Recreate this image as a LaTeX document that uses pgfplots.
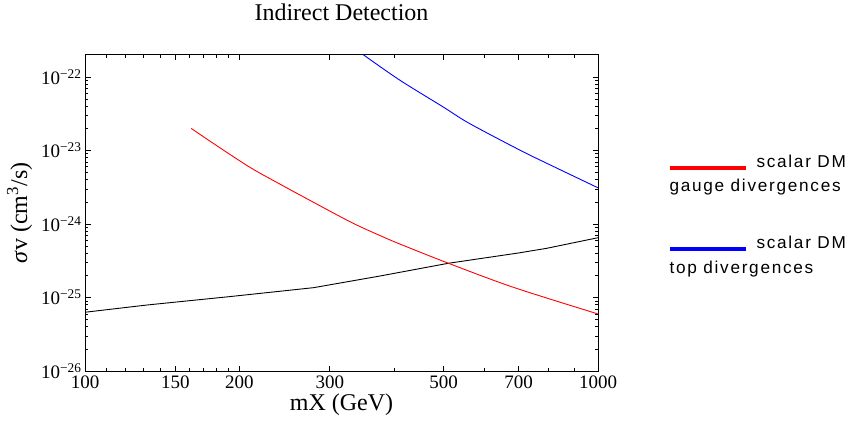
\documentclass[border=0pt]{standalone}
\usepackage{pgfplots}
\pgfplotsset{compat=1.18}
\usepackage{fontspec}
\setmainfont{Liberation Serif}
\newfontfamily\legfont[LetterSpace=10]{Liberation Sans}

\pgfplotstableread{
x y
100 6.3e-26
132 7.9e-26
192 1.03e-25
279 1.36e-25
376 1.96e-25
511 2.92e-25
700 4.03e-25
794 4.66e-25
1000 6.5e-25
}\blackdata

\pgfplotstableread{
x y
161.1 1.99e-23
177.9 1.245e-23
209.7 5.88e-24
239.9 3.48e-24
262.6 2.47e-24
328.7 1.07e-24
376 6.95e-25
411 5.33e-25
511 2.92e-25
683 1.38e-25
1000 5.97e-26
}\reddata

\pgfplotstableread{
x y
348.7 2.0e-22
411 9.0e-23
499 3.9e-23
560 2.35e-23
704 1.01e-23
794 6.7e-24
1000 3.1e-24
}\bluedata

\begin{document}
\begin{tikzpicture}[x=1pt,y=1pt]
\path[use as bounding box] (0,0) rectangle (856,421);
\begin{axis}[
  at={(85pt,50pt)}, anchor=south west,
  scale only axis, width=513pt, height=316.3pt,
  xmode=log, ymode=log,
  xmin=100, xmax=1000, ymin=1e-26, ymax=2e-22,
  xtick={100,150,200,300,500,700,1000},
  xticklabels={100,150,200,300,500,700,1000},
  minor xtick={110,120,130,140,160,170,180,190,400,600,800,900},
  ytick={1e-26,1e-25,1e-24,1e-23,1e-22},
  yticklabels={10\textsuperscript{−26},10\textsuperscript{−25},10\textsuperscript{−24},10\textsuperscript{−23},10\textsuperscript{−22}},
  minor ytick={2e-26,3e-26,4e-26,5e-26,6e-26,7e-26,8e-26,9e-26,
               2e-25,3e-25,4e-25,5e-25,6e-25,7e-25,8e-25,9e-25,
               2e-24,3e-24,4e-24,5e-24,6e-24,7e-24,8e-24,9e-24,
               2e-23,3e-23,4e-23,5e-23,6e-23,7e-23,8e-23,9e-23,
               2e-22},
  tick align=inside,
  major tick length=5.5pt, minor tick length=3pt,
  every tick/.style={black, line width=0.6pt},
  axis line style={line width=0.9pt},
  tick label style={font=\fontsize{19}{19}\selectfont},
  xticklabel style={yshift=-1pt},
  xlabel={mX (GeV)},
  ylabel={\textit{σ}v (cm\textsuperscript{3}/s)},
  title={Indirect Detection},
  label style={font=\fontsize{24}{24}\selectfont},
  title style={font=\fontsize{24}{24}\selectfont, at={(axis description cs:0.5,1.0907)}, anchor=base},
  xlabel style={at={(axis description cs:0.5,-0.1233)}, anchor=base},
  ylabel style={at={(axis description cs:-0.113,0.5)}, anchor=base},
  legend image code/.code={},
  legend style={at={(axis description cs:1.139,0.698)}, anchor=north west,
    draw=none, fill=none, inner sep=0pt, row sep=51pt,
    nodes={inner sep=0pt},
    font=\legfont\fontsize{17.2}{24.4}\selectfont},
  legend cell align=left,
]
\addplot[black, line width=0.9pt, forget plot] table[x=x,y=y] {\blackdata};
\addplot[red, line width=0.9pt, smooth] table[x=x,y=y] {\reddata};
\addlegendentry{\begin{tabular}{@{}l@{}}\textcolor{red}{\rule[-2pt]{76pt}{4pt}}\hspace{11pt}scalar DM\\gauge divergences\end{tabular}}
\addplot[blue, line width=0.9pt, smooth] table[x=x,y=y] {\bluedata};
\addlegendentry{\begin{tabular}{@{}l@{}}\textcolor{blue}{\rule[-2pt]{76pt}{4pt}}\hspace{11pt}scalar DM\\top divergences\end{tabular}}
\end{axis}
\end{tikzpicture}
\end{document}
